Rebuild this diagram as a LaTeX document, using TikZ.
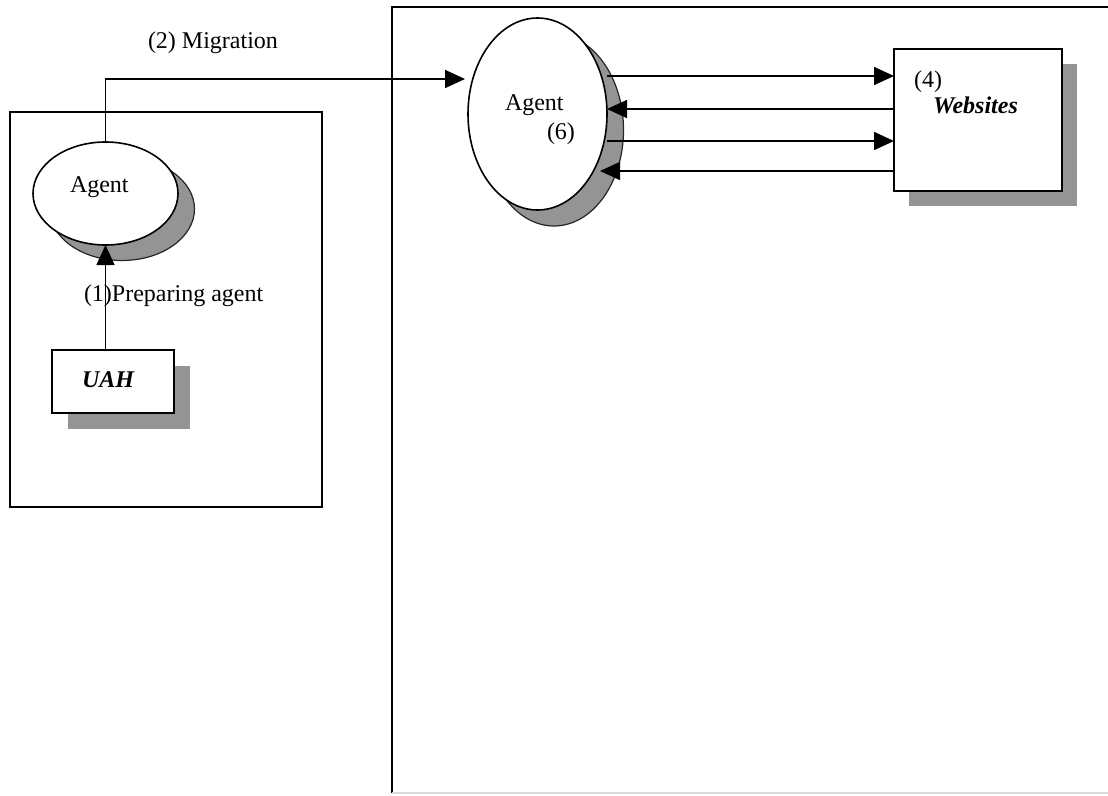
\documentclass[tikz,border=0pt]{standalone}
\usepackage{fontspec}
\setmainfont{Liberation Serif}
\usetikzlibrary{arrows.meta,calc,shapes.geometric}
\begin{document}
\begin{tikzpicture}[x=1pt,y=-1pt,
  every node/.style={inner sep=0pt, outer sep=0pt},
  lbl/.style={font=\fontsize{24}{28}\selectfont, anchor=base west},
  blbl/.style={font=\fontsize{24}{28}\selectfont\bfseries\itshape, anchor=base west},
  frame/.style={draw, line width=1.6pt},
  ell/.style={draw, ellipse, fill=white, line width=1.6pt},
  ellshadow/.style={ellipse, fill=black!42, draw=black!85, line width=1.2pt},
  boxshadow/.style={fill=black!42},
  whitebox/.style={draw, fill=white, line width=1.6pt},
  conn/.style={line width=1.6pt},
  arr/.style={conn, -{Triangle[length=20pt,width=18pt]}},
]
\useasboundingbox (0,0) rectangle (1108,795);

% frames
\node[frame, minimum width=312pt, minimum height=395pt, anchor=north west] (leftbox) at (10,112) {};
\draw[frame] (1110,7) -- (392,7) -- (392,793);
\draw[line width=1.2pt, black!15] (392,793) -- (1108,793);

% left agent
\node[ellshadow, minimum width=145pt, minimum height=103pt] (a1s) at (122,209) {};
\node[ell, minimum width=145pt, minimum height=103pt] (a1) at (105.5,193.5) {};
\node[lbl] (a1t) at (70,192) {Agent};

% UAH
\node[boxshadow, minimum width=122pt, minimum height=63pt] (uahs) at (129,397.5) {};
\node[whitebox, minimum width=122pt, minimum height=63pt] (uah) at (113,381.5) {};
\node[blbl] (uaht) at (82,387) {UAH};

% big agent
\node[ellshadow, minimum width=139pt, minimum height=192pt] (a2s) at (554,130) {};
\node[ell, minimum width=139pt, minimum height=192pt] (a2) at (537.5,114) {};
\node[lbl] (a2t) at (505,110) {Agent};
\node[lbl] (a2n) at (547,139) {(6)};

% websites
\node[boxshadow, minimum width=168pt, minimum height=142pt] (webs) at (993,135) {};
\node[whitebox, minimum width=168pt, minimum height=142pt] (web) at (978,120) {};
\node[lbl] (webn) at (914,87) {(4)};
\node[blbl] (webt) at (933,113) {Websites};

% labels
\node[lbl] (migl) at (148,48) {(2) Migration};
\node[lbl] (prepl) at (84,301) {(1)Preparing agent};

% connectors
\draw[arr] (a1.south |- uah.north) -- (a1.south);
\draw[arr] (a1.north) |- ($(a2.west)+(-3,-35)$);

\coordinate (w1) at ($(web.north west)+(0,27)$);
\coordinate (w2) at ($(web.north west)+(0,60)$);
\coordinate (w3) at ($(web.north west)+(0,92)$);
\coordinate (w4) at ($(web.north west)+(0,122)$);
\draw[arr] (w1 -| a2.east) -- (w1);
\draw[arr] (w2) -- (w2 -| a2.east);
\draw[arr] (w3 -| a2.east) -- (w3);
\draw[arr] (w4) -- ($(w4 -| a2.east)+(-7,0)$);
\end{tikzpicture}
\end{document}
